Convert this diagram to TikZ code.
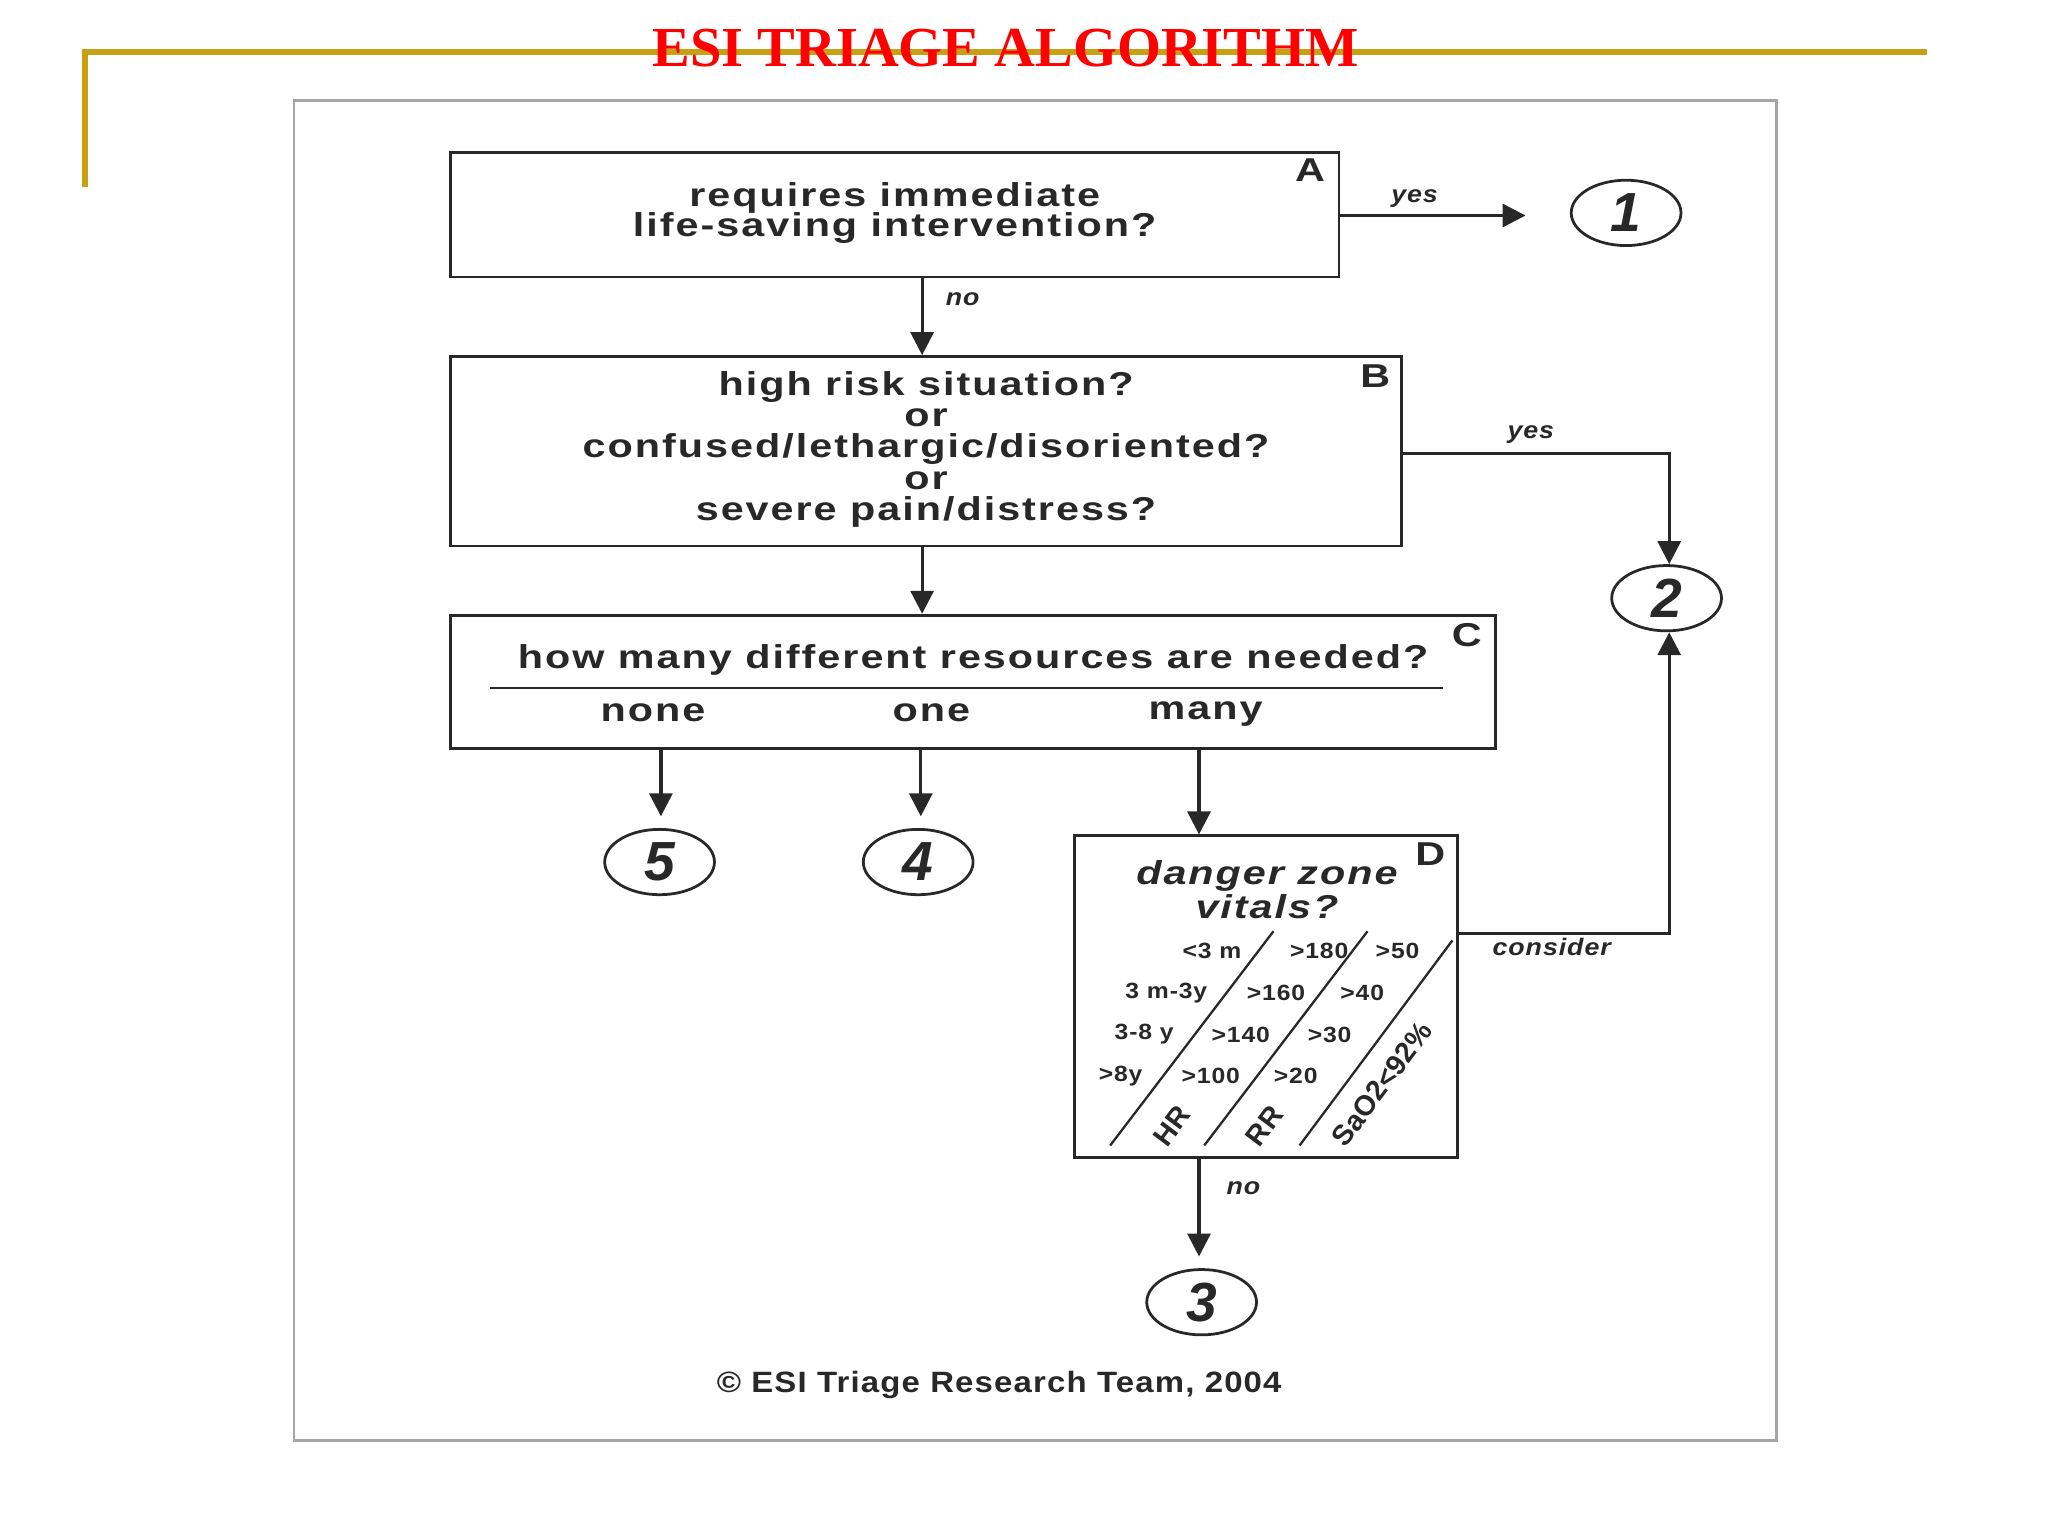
\documentclass[tikz,border=0pt]{standalone}
\usepackage{fontspec}
\setmainfont{Liberation Sans}
\newfontfamily\titlefont{Liberation Serif}
\newfontfamily\widefont[FakeStretch=1.25,LetterSpace=6]{Liberation Sans}
\newfontfamily\medfont[FakeStretch=1.12,LetterSpace=4]{Liberation Sans}
\usetikzlibrary{arrows.meta,shapes.geometric}
\definecolor{gold}{RGB}{200,160,20}
\definecolor{ink}{RGB}{40,40,40}
\tikzset{
  x=0.01cm,y=-0.01cm,
  box/.style={draw=ink,line width=0.6pt},
  txt/.style={font=\widefont\fontsize{7.2}{6.8}\selectfont\bfseries,text=ink,inner sep=0pt},
  lbl/.style={font=\medfont\fontsize{5.2}{6}\selectfont\bfseries\itshape,text=ink,inner sep=0pt},
  vit/.style={font=\medfont\fontsize{4.8}{5}\selectfont\bfseries,text=ink,inner sep=0pt},
  rot/.style={font=\fontsize{6.2}{6.2}\selectfont\bfseries,text=ink,inner sep=0pt,rotate=53},
  num/.style={draw=ink,line width=0.6pt,ellipse,minimum width=0.84cm,minimum height=0.5cm,inner sep=0pt,font=\fontsize{12}{12}\selectfont\bfseries\itshape,text=ink},
  arr/.style={draw=ink,line width=0.7pt,-{Triangle[length=5pt,width=5pt]}}
}
\begin{document}
\begin{tikzpicture}
\useasboundingbox (0,0) rectangle (1568,1176);
\fill[white] (0,0) rectangle (1568,1176);
\draw[gold,line width=1.2pt] (65,143) -- (65,40) -- (1475,40);
\node[font=\titlefont\fontsize{12.3}{13}\selectfont\bfseries,text=red,inner sep=0pt] (title) at (770,37) {ESI TRIAGE ALGORITHM};
\draw[gray!70,line width=0.6pt] (225,77) rectangle (1360,1103);
% Box A
\node[box,minimum width=6.8cm,minimum height=0.95cm] (A) at (685,164.5) {};
\node[txt,align=center] (At) at (685,163) {requires immediate\\[-0.3pt]life-saving intervention?};
\node[txt] (Al) at (1003,130) {A};
\node[num] (n1) at (1245,163) {1};
\coordinate (Ay) at (1168,165);
\draw[arr] (A.east |- 0,165) -- (Ay);
\node[lbl] (yes1) at (1083,152) {yes};
% Box B
\node[box,minimum width=7.28cm,minimum height=1.45cm] (B) at (709,345.5) {};
\node[txt,align=center] (Bt) at (709,344) {high risk situation?\\or\\confused/lethargic/disoriented?\\or\\severe pain/distress?};
\node[txt] (Bl) at (1053,288) {B};
\draw[arr] (706,212) -- (B.north -| 706,0);
\node[lbl] (no1) at (737,229) {no};
\node[num] (n2) at (1276,458) {2};
\draw[arr] (B.east |- 0,347) -- (1278,347) -- (n2.north -| 1278,0);
\node[lbl] (yes2) at (1172,333) {yes};
% Box C
\node[box,minimum width=8cm,minimum height=1.02cm] (C) at (745,522) {};
\draw[arr] (B.south -| 706,0) -- (C.north -| 706,0);
\node[txt] (Ct) at (745,505) {how many different resources are needed?};
\draw[ink,line width=0.5pt] (375,527) -- (1105,527);
\node[txt] (Cl) at (1123,486) {C};
\node[txt] (none) at (500,546) {none};
\node[txt] (one) at (713,546) {one};
\node[txt] (many) at (923,547) {many};
\node[num] (n5) at (505,660) {5};
\node[num] (n4) at (703,660) {4};
\draw[arr] (C.south -| 506,0) -- (506,625);
\draw[arr] (C.south -| 705,0) -- (705,625);
% Box D
\node[box,minimum width=2.93cm,minimum height=2.46cm] (D) at (969.5,763) {};
\draw[arr] (C.south -| 918,0) -- (D.north -| 918,0);
\node[txt] (Dl) at (1095,654) {D};
\node[txt,font=\widefont\fontsize{7.2}{7.4}\selectfont\bfseries\itshape,align=center] (Dt) at (970,681) {danger zone\\vitals?};
\node[vit] at (928,728) {<3 m};
\node[vit] at (1010,728) {>180};
\node[vit] at (1070,728) {>50};
\node[vit] at (893,760) {3 m-3y};
\node[vit] at (977,760) {>160};
\node[vit] at (1043,760) {>40};
\node[vit] at (876,792) {3-8 y};
\node[vit] at (950,792) {>140};
\node[vit] at (1018,792) {>30};
\node[vit] at (858,824) {>8y};
\node[vit] at (927,824) {>100};
\node[vit] at (992,824) {>20};
\draw[ink,line width=0.5pt] (850,877) -- (975,713);
\draw[ink,line width=0.5pt] (922,877) -- (1047,713);
\draw[ink,line width=0.5pt] (995,877) -- (1112,720);
\node[rot] (HR) at (897,862) {HR};
\node[rot] (RR) at (968,862) {RR};
\node[rot] (Sa) at (1058,830) {SaO2<92\%};
\draw[arr] (D.east |- 0,715) -- (1278,715) -- (n2.south -| 1278,0);
\node[lbl] (cons) at (1188,725) {consider};
\node[num] (n3) at (920,997) {3};
\draw[arr] (D.south -| 918,0) -- (918,962);
\node[lbl] (no2) at (952,910) {no};
\node[font=\medfont\fontsize{6.4}{6.4}\selectfont\bfseries,text=ink,inner sep=0pt] (copy) at (765,1060) {© ESI Triage Research Team, 2004};
\end{tikzpicture}
\end{document}
